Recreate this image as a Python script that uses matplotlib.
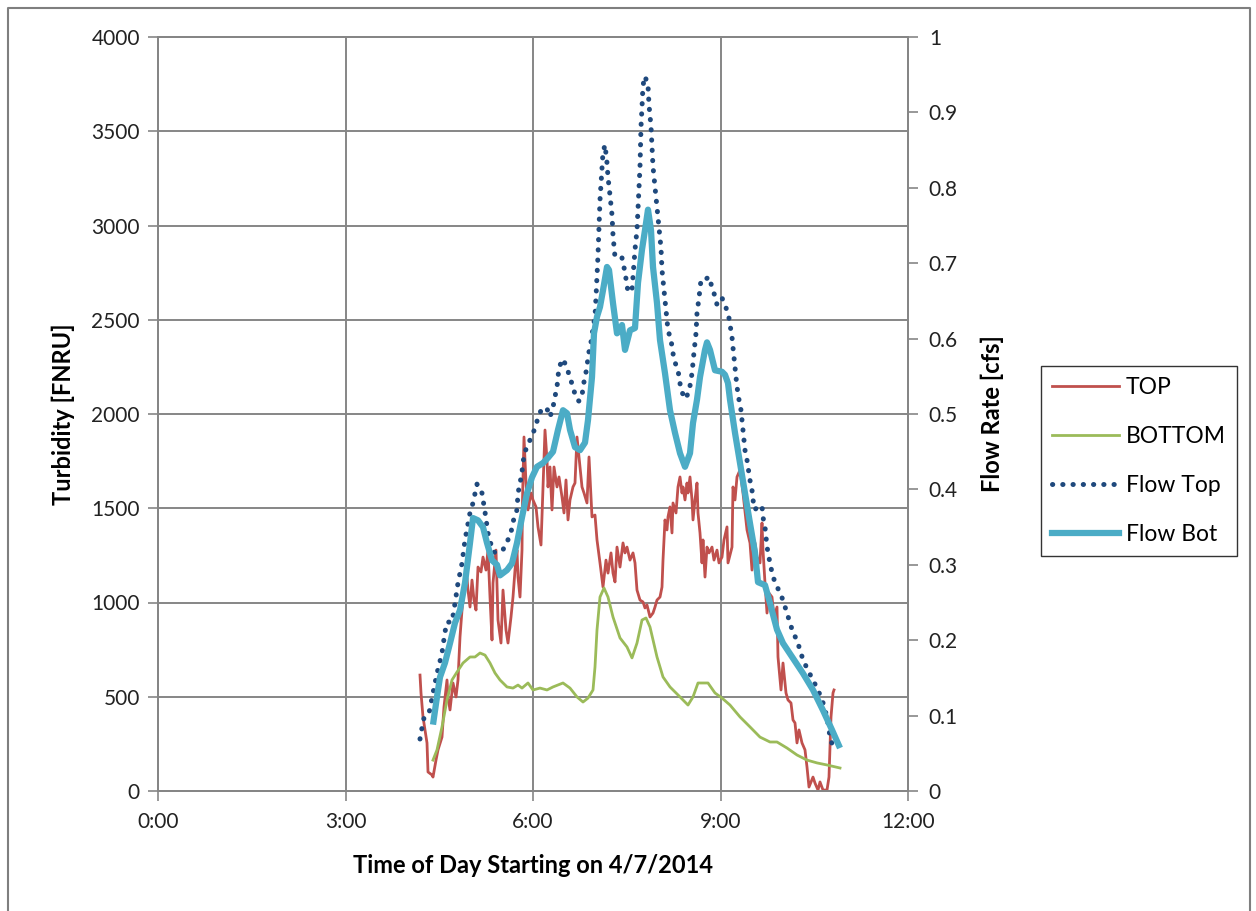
import matplotlib
matplotlib.use('Agg')
import matplotlib.pyplot as plt
from matplotlib.ticker import FuncFormatter, MultipleLocator
from matplotlib.lines import Line2D

plt.rcParams['font.family'] = ['Lato', 'DejaVu Sans']

# ---- data (time in hours after midnight, 4/7/2014) ----
t_top = [4.192, 4.208, 4.24, 4.304, 4.32, 4.384, 4.40, 4.448, 4.48, 4.544, 4.576, 4.624, 4.64, 4.672,
         4.72, 4.768, 4.80, 4.832, 4.864, 4.896, 4.944, 4.96, 4.992, 5.024, 5.056, 5.088, 5.12, 5.168,
         5.20, 5.248, 5.28, 5.312, 5.344, 5.36, 5.408, 5.44, 5.488, 5.52, 5.568, 5.60, 5.648, 5.68,
         5.712, 5.744, 5.76, 5.792, 5.824, 5.832, 5.856, 5.888, 5.92, 5.968, 6.00, 6.048, 6.08, 6.128,
         6.16, 6.192, 6.224, 6.24, 6.272, 6.304, 6.336, 6.384, 6.416, 6.464, 6.496, 6.528, 6.56, 6.592,
         6.64, 6.672, 6.704, 6.736, 6.784, 6.816, 6.864, 6.896, 6.944, 6.992, 7.024, 7.072, 7.12, 7.168,
         7.20, 7.248, 7.28, 7.312, 7.344, 7.392, 7.44, 7.472, 7.504, 7.552, 7.60, 7.632, 7.664, 7.712,
         7.76, 7.792, 7.824, 7.872, 7.92, 7.952, 7.984, 8.032, 8.064, 8.08, 8.112, 8.144, 8.16, 8.192,
         8.224, 8.24, 8.288, 8.32, 8.352, 8.384, 8.40, 8.432, 8.464, 8.48, 8.512, 8.544, 8.56, 8.592,
         8.624, 8.64, 8.672, 8.704, 8.72, 8.752, 8.784, 8.816, 8.864, 8.896, 8.944, 8.976, 9.024, 9.056,
         9.104, 9.12, 9.184, 9.20, 9.232, 9.264, 9.312, 9.36, 9.424, 9.472, 9.504, 9.552, 9.584, 9.632,
         9.664, 9.68, 9.712, 9.744, 9.776, 9.824, 9.856, 9.904, 9.92, 9.968, 10.00, 10.048, 10.08,
         10.128, 10.16, 10.192, 10.224, 10.256, 10.304, 10.352, 10.384, 10.416, 10.48, 10.512, 10.56,
         10.592, 10.64, 10.704, 10.736, 10.768, 10.80, 10.816]
top = [615, 520, 393, 255, 101, 85, 74, 164, 218, 286, 446, 589, 499, 430,
       573, 499, 589, 817, 960, 1066, 1130, 1066, 976, 1119, 1013, 960, 1188, 1162,
       1241, 1172, 1278, 1029, 801, 1103, 1278, 907, 785, 1066, 854, 785, 923, 1029,
       1172, 1278, 1135, 1029, 1278, 1544, 1878, 1634, 1491, 1581, 1544, 1507, 1401, 1305,
       1613, 1915, 1756, 1613, 1719, 1491, 1719, 1613, 1666, 1560, 1475, 1650, 1438, 1544,
       1613, 1634, 1878, 1772, 1613, 1581, 1528, 1772, 1454, 1464, 1332, 1210, 1082, 1225,
       1156, 1263, 1156, 1109, 1294, 1188, 1316, 1263, 1294, 1225, 1263, 1210, 1066, 1013,
       1003, 971, 987, 923, 944, 976, 1013, 1029, 1082, 1225, 1438, 1385, 1454, 1507,
       1369, 1528, 1475, 1613, 1666, 1581, 1613, 1544, 1634, 1581, 1666, 1544, 1438, 1544,
       1634, 1475, 1369, 1210, 1332, 1135, 1294, 1263, 1294, 1225, 1278, 1210, 1241, 1332,
       1401, 1210, 1294, 1613, 1544, 1666, 1703, 1581, 1385, 1316, 1172, 1316, 1241, 1210,
       1422, 1278, 1103, 944, 1050, 1029, 923, 976, 711, 536, 679, 520, 483,
       467, 377, 361, 255, 324, 255, 218, 127, 21, 74, 42, 5,
       48, 5, 5, 74, 393, 520, 536]

t_bottom = [4.40, 4.464, 4.544, 4.624, 4.704, 4.784, 4.88, 4.992, 5.072, 5.152, 5.232, 5.312, 5.392,
            5.472, 5.584, 5.68, 5.76, 5.824, 5.92, 6.00, 6.112, 6.224, 6.32, 6.48, 6.592, 6.704, 6.80,
            6.88, 6.96, 6.992, 7.024, 7.072, 7.136, 7.20, 7.28, 7.392, 7.504, 7.584, 7.664, 7.744,
            7.808, 7.872, 7.984, 8.08, 8.192, 8.352, 8.48, 8.56, 8.64, 8.80, 8.912, 9.024, 9.152,
            9.312, 9.472, 9.632, 9.792, 9.904, 10.064, 10.224, 10.384, 10.544, 10.704, 10.912]
bottom = [164, 218, 340, 483, 589, 631, 679, 711, 711, 732, 721, 679, 626,
          589, 552, 546, 562, 546, 573, 536, 546, 536, 552, 573, 546, 499, 472,
          493, 536, 658, 854, 1029, 1077, 1029, 923, 812, 764, 706, 785, 907,
          918, 870, 711, 605, 552, 499, 456, 499, 573, 573, 520, 493, 456,
          393, 340, 286, 260, 260, 228, 191, 164, 149, 138, 122]

t_flow_top = [4.192, 4.224, 4.256, 4.336, 4.40, 4.464, 4.544, 4.592, 4.624, 4.704, 4.752, 4.80, 4.864,
              4.912, 4.992, 5.04, 5.104, 5.184, 5.232, 5.28, 5.36, 5.44, 5.52, 5.584, 5.648, 5.68,
              5.744, 5.76, 5.792, 5.824, 5.84, 5.872, 6.032, 6.08, 6.144, 6.224, 6.272, 6.32, 6.352,
              6.384, 6.40, 6.416, 6.48, 6.544, 6.592, 6.64, 6.688, 6.736, 6.784, 6.80, 6.832, 6.864,
              6.88, 6.912, 6.944, 6.96, 6.992, 7.008, 7.024, 7.04, 7.072, 7.12, 7.152, 7.184, 7.20,
              7.232, 7.264, 7.28, 7.312, 7.424, 7.472, 7.52, 7.584, 7.632, 7.664, 7.68, 7.696, 7.712,
              7.728, 7.744, 7.76, 7.792, 7.84, 7.856, 7.888, 7.904, 7.92, 7.952, 7.984, 8.016, 8.048,
              8.064, 8.096, 8.128, 8.16, 8.208, 8.256, 8.32, 8.368, 8.432, 8.496, 8.544, 8.576, 8.608,
              8.624, 8.656, 8.688, 8.752, 8.816, 8.864, 8.912, 8.944, 9.024, 9.088, 9.136, 9.184, 9.20,
              9.232, 9.264, 9.296, 9.328, 9.36, 9.392, 9.424, 9.472, 9.504, 9.52, 9.552, 9.60, 9.664,
              9.68, 9.712, 9.744, 9.792, 9.84, 9.904, 9.952, 10.00, 10.064, 10.112, 10.16, 10.224,
              10.272, 10.32, 10.40, 10.48, 10.56, 10.64, 10.704, 10.752, 10.80]
flow_top = [0.069, 0.084, 0.097, 0.103, 0.130, 0.156, 0.183, 0.211, 0.224, 0.224, 0.249, 0.276, 0.302,
            0.333, 0.369, 0.382, 0.407, 0.395, 0.370, 0.342, 0.317, 0.316, 0.320, 0.330, 0.343, 0.357,
            0.373, 0.395, 0.408, 0.423, 0.436, 0.450, 0.481, 0.495, 0.508, 0.507, 0.496, 0.509, 0.523,
            0.536, 0.549, 0.562, 0.573, 0.561, 0.548, 0.536, 0.521, 0.517, 0.523, 0.536, 0.549, 0.562,
            0.576, 0.589, 0.602, 0.615, 0.629, 0.655, 0.684, 0.711, 0.784, 0.847, 0.857, 0.833, 0.814,
            0.790, 0.764, 0.737, 0.708, 0.707, 0.688, 0.662, 0.664, 0.718, 0.744, 0.773, 0.801, 0.828,
            0.881, 0.907, 0.936, 0.948, 0.936, 0.910, 0.881, 0.854, 0.828, 0.801, 0.775, 0.747, 0.720,
            0.691, 0.664, 0.638, 0.611, 0.598, 0.572, 0.558, 0.532, 0.520, 0.529, 0.554, 0.582, 0.607,
            0.634, 0.654, 0.678, 0.678, 0.682, 0.668, 0.656, 0.645, 0.654, 0.641, 0.627, 0.602, 0.588,
            0.562, 0.536, 0.519, 0.505, 0.479, 0.452, 0.439, 0.412, 0.399, 0.386, 0.373, 0.378, 0.378,
            0.363, 0.350, 0.324, 0.302, 0.284, 0.271, 0.263, 0.253, 0.236, 0.223, 0.210, 0.200,
            0.187, 0.174, 0.160, 0.147, 0.134, 0.117, 0.098, 0.072, 0.058]

t_flow_bot = [4.40, 4.464, 4.512, 4.592, 4.672, 4.752, 4.832, 4.912, 4.992, 5.04, 5.12, 5.20, 5.264,
              5.344, 5.424, 5.472, 5.584, 5.664, 5.744, 5.824, 5.904, 5.984, 6.064, 6.16, 6.24, 6.32,
              6.40, 6.48, 6.544, 6.592, 6.672, 6.752, 6.832, 6.88, 6.944, 6.976, 7.024, 7.072, 7.12,
              7.184, 7.216, 7.28, 7.344, 7.392, 7.424, 7.472, 7.552, 7.632, 7.68, 7.744, 7.792, 7.84,
              7.888, 7.92, 7.984, 8.032, 8.112, 8.192, 8.272, 8.352, 8.432, 8.512, 8.56, 8.624, 8.672,
              8.752, 8.784, 8.832, 8.912, 9.024, 9.072, 9.12, 9.152, 9.232, 9.312, 9.392, 9.472, 9.552,
              9.60, 9.712, 9.792, 9.904, 10.00, 10.16, 10.32, 10.48, 10.64, 10.784, 10.912]
flow_bot = [0.088, 0.125, 0.151, 0.170, 0.196, 0.223, 0.240, 0.276, 0.329, 0.362, 0.359, 0.350, 0.329,
            0.306, 0.300, 0.286, 0.293, 0.302, 0.329, 0.363, 0.395, 0.416, 0.430, 0.435, 0.442, 0.450,
            0.479, 0.505, 0.501, 0.479, 0.456, 0.452, 0.462, 0.492, 0.549, 0.607, 0.629, 0.642, 0.664,
            0.695, 0.691, 0.647, 0.607, 0.611, 0.618, 0.585, 0.611, 0.614, 0.674, 0.718, 0.744, 0.771,
            0.744, 0.695, 0.647, 0.598, 0.554, 0.505, 0.475, 0.448, 0.430, 0.448, 0.488, 0.519, 0.549,
            0.585, 0.595, 0.585, 0.558, 0.556, 0.552, 0.541, 0.519, 0.475, 0.435, 0.395, 0.355, 0.316,
            0.277, 0.273, 0.249, 0.214, 0.196, 0.176, 0.156, 0.134, 0.107, 0.081, 0.057]

hour_ticks = [0, 3, 6, 9, 12]

grey = '#868686'

fig = plt.figure(figsize=(12.56, 9.11), dpi=100)
ax = fig.add_axes([158 / 1256, 120 / 911, 750 / 1256, 754 / 911])
ax2 = ax.twinx()

ax.plot(t_top, top, color='#C0504D', lw=2.0, label='TOP')
ax.plot(t_bottom, bottom, color='#9BBB59', lw=2.0, label='BOTTOM')
ax2.plot(t_flow_top, flow_top, color='#1F497D', lw=3.6, linestyle=(0, (0.05, 2.0)),
         dash_capstyle='round', label='Flow Top')
ax2.plot(t_flow_bot, flow_bot, color='#4BACC6', lw=4.5, solid_capstyle='butt', label='Flow Bot')

ax.set_xlim(0, 12)
ax.set_ylim(0, 4000)
ax2.set_ylim(0, 1)
ax.set_xticks(hour_ticks)
ax.xaxis.set_major_formatter(FuncFormatter(lambda v, p: '%d:00' % int(v)))
ax.yaxis.set_major_locator(MultipleLocator(500))
ax2.yaxis.set_major_locator(MultipleLocator(0.1))
ax2.yaxis.set_major_formatter(FuncFormatter(lambda v, p: '%g' % round(v, 1)))

ax.grid(True, color=grey, lw=1.4)
ax.set_axisbelow(True)
for a in (ax, ax2):
    for s in a.spines.values():
        s.set_color(grey)
        s.set_linewidth(1.4)
    a.tick_params(length=7, width=1.2, color=grey, labelsize=15, labelcolor='#222222')
ax.tick_params(axis='x', pad=8)
ax.tick_params(axis='y', pad=6)
ax2.tick_params(axis='y', pad=8)

ax.set_xlabel('Time of Day Starting on 4/7/2014', fontsize=17, fontweight='bold', labelpad=16)
ax.set_ylabel('Turbidity [FNRU]', fontsize=17, fontweight='bold', labelpad=12)
ax2.set_ylabel('Flow Rate [cfs]', fontsize=17, fontweight='bold', labelpad=16)

handles = [Line2D([], [], color='#C0504D', lw=2.0),
           Line2D([], [], color='#9BBB59', lw=2.0),
           Line2D([], [], color='#1F497D', lw=3.6, linestyle=(0, (0.05, 2.0)), dash_capstyle='round'),
           Line2D([], [], color='#4BACC6', lw=4.5)]
leg = fig.legend(handles, ['TOP', 'BOTTOM', 'Flow Top', 'Flow Bot'], loc='center left',
                 bbox_to_anchor=(1041 / 1256, (911 - 461) / 911), fontsize=16.5, frameon=True,
                 fancybox=False, edgecolor='black', handlelength=2.9, labelspacing=1.22,
                 borderpad=0.5, borderaxespad=0, handletextpad=0.3)
leg.get_frame().set_linewidth(1.0)

# outer chart frame
fig.add_artist(Line2D([8 / 1256, 8 / 1256, 1250 / 1256, 1250 / 1256], [0, 903 / 911, 903 / 911, 0],
                      color='#7f7f7f', lw=1.5, transform=fig.transFigure))

fig.savefig('out.png', dpi=100)
